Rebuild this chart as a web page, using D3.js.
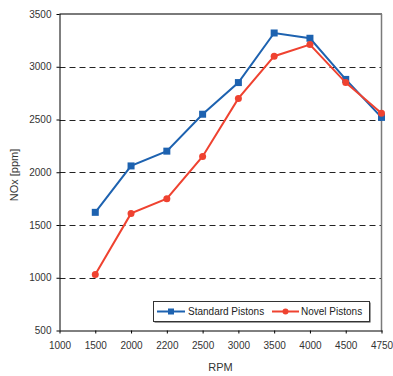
<!DOCTYPE html>
<html>
<head>
<meta charset="utf-8">
<script src="https://cdn.jsdelivr.net/npm/d3@7"></script>
<style>
  html, body { margin: 0; padding: 0; background: #fff; }
  svg { display: block; font-family: "Liberation Sans", Arial, sans-serif; }
</style>
</head>
<body>
<svg id="chart" width="393" height="376"></svg>
<script>
// RPM categories shown on the x axis (evenly spaced)
const rpmLabels = ["1000", "1500", "2000", "2200", "2500", "3000", "3500", "4000", "4500", "4750"];
// Measured RPM points
const rpmPoints = ["1500", "2000", "2200", "2500", "3000", "3500", "4000", "4500", "4750"];
// NOx emissions [ppm]
const standardPistons = [1620, 2060, 2200, 2550, 2850, 3320, 3270, 2880, 2520];
const novelPistons    = [1030, 1610, 1750, 2150, 2700, 3100, 3210, 2850, 2560];
const yTicks = [500, 1000, 1500, 2000, 2500, 3000, 3500];
const seriesNames = ["Standard Pistons", "Novel Pistons"];

const blue = "#1d62b0";
const red = "#ef4230";

const svg = d3.select("#chart");
const plotL = 59.5, plotR = 381.5, plotT = 14, plotB = 330.5;

const x = d3.scalePoint().domain(rpmLabels).range([plotL, plotR]);
const y = d3.scaleLinear().domain([500, 3500]).range([plotB, plotT]);

// dashed horizontal gridlines
svg.append("g")
  .selectAll("line")
  .data(yTicks.filter(v => v > 500 && v < 3500))
  .join("line")
  .attr("x1", plotL).attr("x2", plotR)
  .attr("y1", d => Math.round(y(d)) + 0.5).attr("y2", d => Math.round(y(d)) + 0.5)
  .attr("stroke", "#222").attr("stroke-width", 1)
  .attr("stroke-dasharray", "6,4");

// top and right frame
svg.append("line").attr("x1", plotL).attr("x2", plotR + 0.5).attr("y1", plotT).attr("y2", plotT)
  .attr("stroke", "#7a7a7a").attr("stroke-width", 2);
svg.append("line").attr("x1", plotR).attr("x2", plotR).attr("y1", plotT).attr("y2", plotB)
  .attr("stroke", "#7a7a7a").attr("stroke-width", 1.5);

// y axis
const yAxis = svg.append("g")
  .attr("transform", `translate(${plotL},0)`)
  .call(d3.axisLeft(y).tickValues(yTicks).tickSize(3).tickPadding(5).tickFormat(d3.format("d")));
yAxis.select(".domain").attr("stroke", "#000").attr("d", `M0.5,${plotT}V${plotB}`);
yAxis.selectAll(".tick line").attr("stroke", "#000");
yAxis.selectAll("text").attr("font-size", 10).attr("fill", "#333")
  .attr("font-family", "Liberation Sans, Arial, sans-serif");

// x axis
const xAxis = svg.append("g")
  .attr("transform", `translate(0,${plotB})`)
  .call(d3.axisBottom(x).tickSize(3).tickPadding(8));
xAxis.select(".domain").attr("stroke", "#000").attr("d", `M${plotL},0.5H${plotR + 1}`);
xAxis.selectAll(".tick line").attr("stroke", "#000");
xAxis.selectAll("text").attr("font-size", 10).attr("fill", "#333")
  .attr("font-family", "Liberation Sans, Arial, sans-serif");

// axis titles
svg.append("text")
  .attr("transform", `translate(18,175) rotate(-90)`)
  .attr("text-anchor", "middle")
  .attr("font-size", 11).attr("fill", "#333")
  .text("NOx [ppm]");
svg.append("text")
  .attr("x", 220.5).attr("y", 371)
  .attr("text-anchor", "middle")
  .attr("font-size", 11).attr("fill", "#333")
  .text("RPM");

// series lines and markers
const line = d3.line().x(d => x(d[0])).y(d => y(d[1]));
const stdData = rpmPoints.map((r, i) => [r, standardPistons[i]]);
const novData = rpmPoints.map((r, i) => [r, novelPistons[i]]);

svg.append("path").datum(stdData).attr("d", line)
  .attr("fill", "none").attr("stroke", blue).attr("stroke-width", 2);
svg.append("g").selectAll("rect").data(stdData).join("rect")
  .attr("x", d => x(d[0]) - 3.5).attr("y", d => y(d[1]) - 3.5)
  .attr("width", 7).attr("height", 7).attr("fill", blue);

svg.append("path").datum(novData).attr("d", line)
  .attr("fill", "none").attr("stroke", red).attr("stroke-width", 2);
svg.append("g").selectAll("circle").data(novData).join("circle")
  .attr("cx", d => x(d[0])).attr("cy", d => y(d[1]))
  .attr("r", 3.5).attr("fill", red);

// legend
const lg = svg.append("g");
lg.append("rect").attr("x", 154.5).attr("y", 302.5).attr("width", 216).attr("height", 20)
  .attr("fill", "#3a3a3a");
lg.append("rect").attr("x", 153.5).attr("y", 301.5).attr("width", 216).attr("height", 20)
  .attr("fill", "#fff").attr("stroke", "#333").attr("stroke-width", 1);

const legendItems = [
  { name: seriesNames[0], color: blue, shape: "square", x0: 157, x1: 185, tx: 188 },
  { name: seriesNames[1], color: red, shape: "circle", x0: 272, x1: 299, tx: 301 }
];
const ly = 311.5;
legendItems.forEach(it => {
  lg.append("line").attr("x1", it.x0).attr("x2", it.x1).attr("y1", ly).attr("y2", ly)
    .attr("stroke", it.color).attr("stroke-width", 2);
  const cx = (it.x0 + it.x1) / 2;
  if (it.shape === "square") {
    lg.append("rect").attr("x", cx - 3).attr("y", ly - 3).attr("width", 6).attr("height", 6).attr("fill", it.color);
  } else {
    lg.append("circle").attr("cx", cx).attr("cy", ly).attr("r", 3).attr("fill", it.color);
  }
  lg.append("text").attr("x", it.tx).attr("y", ly + 3.5)
    .attr("font-size", 10).attr("fill", "#222").text(it.name);
});
</script>
</body>
</html>
